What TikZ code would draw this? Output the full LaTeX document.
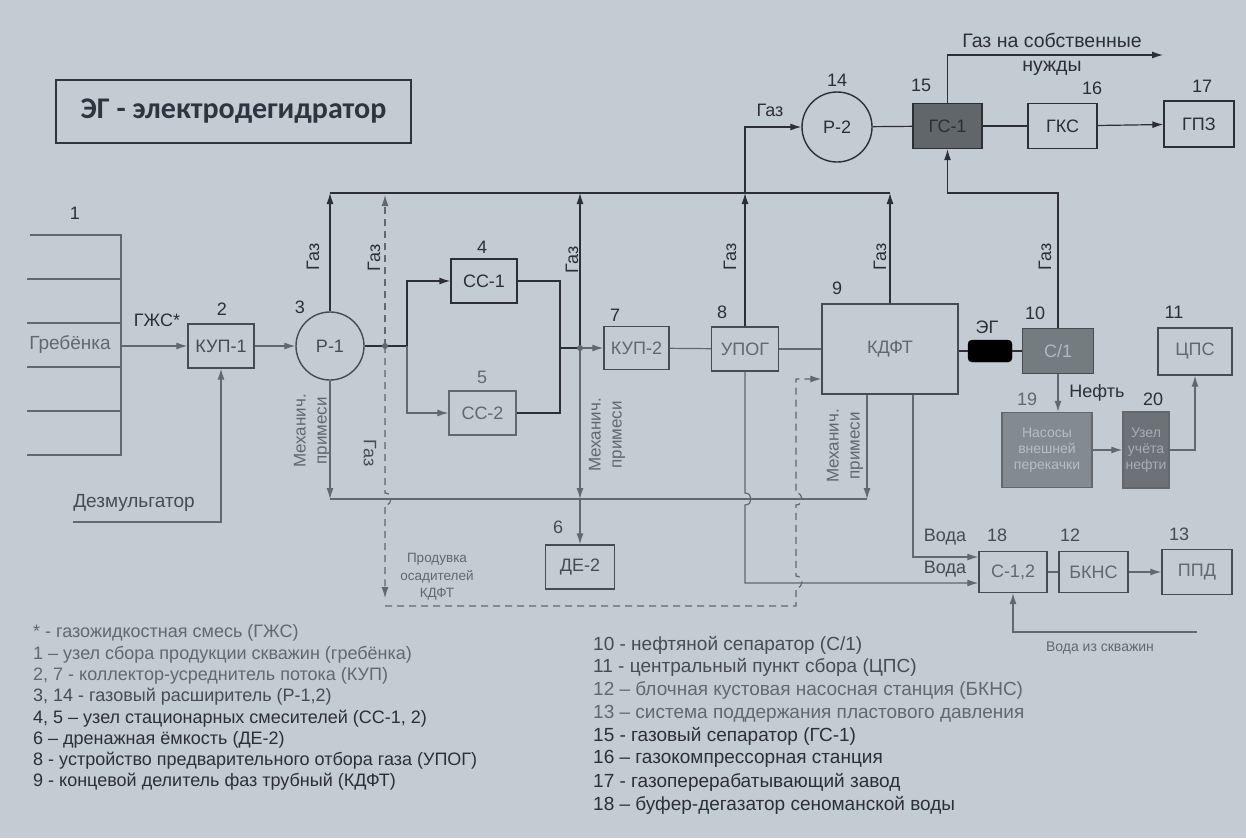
\documentclass[tikz,border=0pt]{standalone}
\usepackage{fontspec}
\setmainfont{Liberation Sans}
\newfontfamily\titlefont{Carlito}
\usetikzlibrary{arrows.meta}
\definecolor{paper}{HTML}{C3CCD2}
\definecolor{ink}{HTML}{2C3034}
\definecolor{mid}{HTML}{474C50}
\definecolor{faded}{HTML}{62686C}
\definecolor{titleink}{HTML}{2B3640}
\tikzset{
  box/.style={draw=mid, line width=1.4pt, inner sep=0pt, text=mid, font=\fontsize{18}{21}\selectfont},
  lbl/.style={inner sep=0pt, text=ink, font=\fontsize{18}{21}\selectfont},
  vlbl/.style={lbl, rotate=90},
  mech/.style={inner sep=0pt, text=faded, align=center, rotate=90, font=\fontsize{17}{21}\selectfont},
  ln/.style={draw=ink, line width=1.2pt},
  gln/.style={draw=faded, line width=1.2pt},
  arr/.style={ln, -{Latex[length=11pt,width=7pt]}},
  garr/.style={gln, -{Latex[length=11pt,width=7pt]}},
  dline/.style={draw=faded, line width=1.2pt, dash pattern=on 7pt off 5pt, -{Latex[length=11pt,width=7pt]}},
  dot/.style={circle, fill=faded, inner sep=0pt, minimum size=6pt},
  legl/.style={anchor=west, inner sep=0pt, text=ink, font=\fontsize{18}{21}\selectfont},
  legr/.style={anchor=west, inner sep=0pt, text=ink, font=\fontsize{19}{22}\selectfont},
}
\begin{document}
\begin{tikzpicture}[x=1pt,y=-1pt]
\fill[paper] (0,0) rectangle (1246,838);
\useasboundingbox (0,0) rectangle (1246,838);

% title
\node[draw=titleink, line width=2pt, minimum width=355pt, minimum height=63pt, text=titleink,
      font=\titlefont\bfseries\fontsize{30}{34}\selectfont] (title) at (233.5,111.5) {ЭГ - электродегидратор};

% comb
\draw[gln] (30,235) -- (121,235) -- (121,455) -- (27,455);
\draw[gln] (27,279) -- (121,279);
\draw[gln] (27,323) -- (121,323);
\draw[gln] (27,367) -- (121,367);
\draw[gln] (27,411) -- (121,411);
\node[lbl, text=faded, font=\fontsize{19}{22}\selectfont] (grebl) at (70,344) {Гребёнка};

% boxes
\node[box, minimum width=66pt, minimum height=44pt] (kup1) at (221,346) {КУП-1};
\node[box, circle, minimum size=68pt] (r1) at (330,346) {Р-1};
\node[box, draw=ink, text=ink, minimum width=66pt, minimum height=44pt] (cc1) at (484,281) {СС-1};
\node[box, draw=faded, text=faded, minimum width=67pt, minimum height=44pt] (cc2) at (482.5,413) {СС-2};
\node[box, text=faded, minimum width=65pt, minimum height=43pt] (kup2) at (636.5,348) {КУП-2};
\node[box, text=faded, minimum width=67pt, minimum height=44pt] (upog) at (745,349) {УПОГ};
\node[box, text=faded, minimum width=136pt, minimum height=90pt] (kdft) at (890,349) {КДФТ};
\node[draw=black, fill=black, rounded corners=4pt, minimum width=44pt, minimum height=22pt, inner sep=0pt] (eg) at (990,351) {};
\node[box, fill=faded!80!paper, text=paper!80!faded, minimum width=71pt, minimum height=45pt] (s1) at (1058,351) {С/1};
\node[box, text=faded, minimum width=74pt, minimum height=47pt] (cps) at (1195,351.5) {ЦПС};
\node[box, draw=faded, fill=faded!65!paper, text=paper!85!faded, align=center,
      font=\fontsize{14}{16}\selectfont, minimum width=90pt, minimum height=75pt] (b19) at (1047,450) {Насосы\\внешней\\перекачки};
\node[box, draw=faded, fill=faded!90!paper, text=paper!70!faded, align=center,
      font=\fontsize{14}{16}\selectfont, minimum width=46pt, minimum height=76pt] (b20) at (1146,450) {Узел\\учёта\\нефти};
\node[box, minimum width=69pt, minimum height=44pt] (de2) at (580,567) {ДЕ-2};
\node[box, text=faded, minimum width=68pt, minimum height=41pt] (s12) at (1013,572) {С-1,2};
\node[box, text=faded, minimum width=69pt, minimum height=41pt] (bkns) at (1093.5,572) {БКНС};
\node[box, text=faded, minimum width=70pt, minimum height=45pt] (ppd) at (1197,572) {ППД};
\node[box, draw=ink, text=ink, circle, minimum size=70pt] (r2) at (837,127) {Р-2};
\node[box, draw=ink, fill=mid!80!paper, text=ink, minimum width=69pt, minimum height=45pt] (gs1) at (947.5,126) {ГС-1};
\node[box, draw=ink, text=ink, minimum width=69pt, minimum height=45pt] (gks) at (1062.5,126) {ГКС};
\node[box, draw=ink, text=ink, minimum width=70pt, minimum height=46pt] (gpz) at (1199,124) {ГПЗ};

% numbers
\node[lbl] (n1) at (75,213) {1};
\node[lbl] (n2) at (222,309) {2};
\node[lbl] (n3) at (300,307) {3};
\node[lbl] (n4) at (482,247) {4};
\node[lbl, text=faded] (n5) at (482,377) {5};
\node[lbl, text=mid] (n6) at (558,527) {6};
\node[lbl] (n7) at (615,315) {7};
\node[lbl] (n8) at (722,312) {8};
\node[lbl] (n9) at (837,288) {9};
\node[lbl] (n10) at (1035,313) {10};
\node[lbl] (n11) at (1174,312) {11};
\node[lbl, text=mid] (n12) at (1070,535) {12};
\node[lbl, text=mid] (n13) at (1179,534) {13};
\node[lbl] (n14) at (837,80) {14};
\node[lbl] (n15) at (921,85) {15};
\node[lbl] (n16) at (1092,88) {16};
\node[lbl] (n17) at (1202,86) {17};
\node[lbl, text=mid] (n18) at (997,535) {18};
\node[lbl, text=faded] (n19) at (1027,399) {19};
\node[lbl] (n20) at (1153,399) {20};

% labels
\node[lbl] (gzhs) at (157,320) {ГЖС*};
\node[lbl, text=mid, font=\fontsize{19}{22}\selectfont] (dezl) at (134,503) {Дезмульгатор};
\node[vlbl] (gaz1) at (313,257) {Газ};
\node[vlbl] (gaz2) at (374,258) {Газ};
\node[lbl, rotate=-90, text=mid] (gaz3) at (370,453) {Газ};
\node[vlbl] (gaz4) at (572,260) {Газ};
\node[vlbl] (gaz5) at (730,257) {Газ};
\node[vlbl] (gaz6) at (880,257) {Газ};
\node[vlbl] (gaz7) at (1045,257) {Газ};
\node[lbl] (gaz8) at (770,110) {Газ};
\node[lbl, align=center, font=\fontsize{19.5}{24}\selectfont] (ownl) at (1052,54) {Газ на собственные\\нужды};
\node[mech] (mech1) at (312,431) {Механич.\\примеси};
\node[mech] (mech2) at (607,435) {Механич.\\примеси};
\node[mech] (mech3) at (845,446) {Механич.\\примеси};
\node[lbl] (egl) at (987,327) {ЭГ};
\node[lbl] (neft) at (1097,393) {Нефть};
\node[lbl, text=mid] (voda1) at (945,537) {Вода};
\node[lbl, text=mid] (voda2) at (945,569) {Вода};
\node[lbl, text=faded, align=center, font=\fontsize{13.5}{17.5}\selectfont] (prod) at (437,577) {Продувка\\осадителей\\КДФТ};
\node[lbl, text=faded, font=\fontsize{14}{16}\selectfont] (vskv) at (1100,648) {Вода из скважин};

% coordinates
\coordinate (comb) at (121,346);
\coordinate (dz) at (73,522);
\coordinate (h1) at (330,193);
\coordinate (hE) at (890,193);
\coordinate (m1) at (330,499);
\coordinate (m2) at (580,499);
\coordinate (m3) at (867,499);
\coordinate (j0) at (407,346);
\coordinate (jd) at (385,346);
\coordinate (sc) at (560,348);
\coordinate (jd2) at (580,348);
\coordinate (hb) at (745,193);
\coordinate (w1) at (913,557);
\coordinate (w2) at (745,583);
\coordinate (own) at (1163,55);
\coordinate (ws) at (1197,632);
\coordinate (gj) at (1058,193);
\coordinate (dk) at (796,379);
\coordinate (db) at (385,606);

% connectors
\draw[garr] (comb) -- (kup1);
\draw[garr] (dz) -| (kup1);
\draw[garr] (kup1) -- (r1);
\draw[ln] (h1) -- (hE);
\draw[arr] (r1) -- (h1);
\draw[garr] (r1) -- (m1);
\draw[gln] (m1) -- (m3);
\draw[ln] (r1) -- (j0);
\draw[arr] (j0) |- (cc1);
\draw[garr] (j0) |- (cc2);
\draw[ln] (cc1) -| (sc);
\draw[ln] (cc2) -| (sc);
\draw[ln] (sc) -- (jd2);
\draw[garr] (jd2) -- (kup2);
\draw[arr] (jd2) -- (jd2 |- h1);
\draw[garr] (jd2) -- (m2);
\draw[garr] (m2) -- (de2);
\draw[gln] (kup2) -- (upog);
\draw[gln] (upog) -- (kdft);
\draw[arr] (upog) -- (hb);
\draw[arr] (hb) |- (r2);
\draw[arr] (kdft) -- (hE);
\draw[ln] (r2) -- (gs1);
\draw[ln] (gs1) -- (gks);
\draw[arr] (gks) -- (gpz);
\draw[arr] (gs1) |- (own);
\draw[arr] (s1) -- (gj) -| (gs1);
\draw[ln] (kdft.east |- eg) -- (eg);
\draw[ln] (eg) -- (s1);
\draw[garr] (s1) -- (s1 |- b19.north);
\draw[garr] (b19) -- (b20);
\draw[garr] (b20) -| (cps);
\draw[garr] (kdft.south -| m3) -- (m3);
\draw[garr] (kdft.south -| w1) -- (w1) -- (w1 -| s12.west);
\draw[garr] (upog) -- (745,493) .. controls (753,493) and (753,505) .. (745,505) -- (w2) -- (w2 -| s12.west);
\draw[gln] (s12) -- (bkns);
\draw[garr] (bkns) -- (ppd);
\draw[garr] (ws) -| (s12);
% dashed blow-down line
\draw[dline] (jd) -- (385,195);
\draw[dline] (jd) -- (385,493) .. controls (393,493) and (393,505) .. (385,505) -- (385,598);
\draw[dline] (db) -- (796,606) -- (796,588) .. controls (804,588) and (804,576) .. (796,576) -- (796,505) .. controls (804,505) and (804,493) .. (796,493) -- (dk) -- (dk -| kdft.west);
\node[dot] (dot1) at (jd) {};
\node[dot] (dot2) at (jd2) {};

% legend
\node[legl, text=faded] (l0) at (33,633) {* - газожидкостная смесь (ГЖС)};
\node[legl, text=faded] (l1) at (33,654.3) {1 – узел сбора продукции скважин (гребёнка)};
\node[legl, text=faded] (l2) at (33,675.6) {2, 7 - коллектор-усреднитель потока (КУП)};
\node[legl, text=mid] (l3) at (33,696.9) {3, 14 - газовый расширитель (Р-1,2)};
\node[legl] (l4) at (33,718.2) {4, 5 – узел стационарных смесителей (СС-1, 2)};
\node[legl] (l5) at (33,739.5) {6 – дренажная ёмкость (ДЕ-2)};
\node[legl] (l6) at (33,760.8) {8 - устройство предварительного отбора газа (УПОГ)};
\node[legl] (l7) at (33,782) {9 - концевой делитель фаз трубный (КДФТ)};
\node[legr, text=mid] (r10) at (593,645) {10 - нефтяной сепаратор (С/1)};
\node[legr, text=mid] (r11) at (593,667.9) {11 - центральный пункт сбора (ЦПС)};
\node[legr, text=faded] (r12) at (593,690.7) {12 – блочная кустовая насосная станция (БКНС)};
\node[legr, text=faded] (r13) at (593,713.6) {13 – система поддержания пластового давления};
\node[legr] (r15) at (593,736.4) {15 - газовый сепаратор (ГС-1)};
\node[legr] (r16) at (593,759.3) {16 – газокомпрессорная станция};
\node[legr] (r17) at (593,782.1) {17 - газоперерабатывающий завод};
\node[legr] (r18) at (593,805) {18 – буфер-дегазатор сеноманской воды};
\end{tikzpicture}
\end{document}
